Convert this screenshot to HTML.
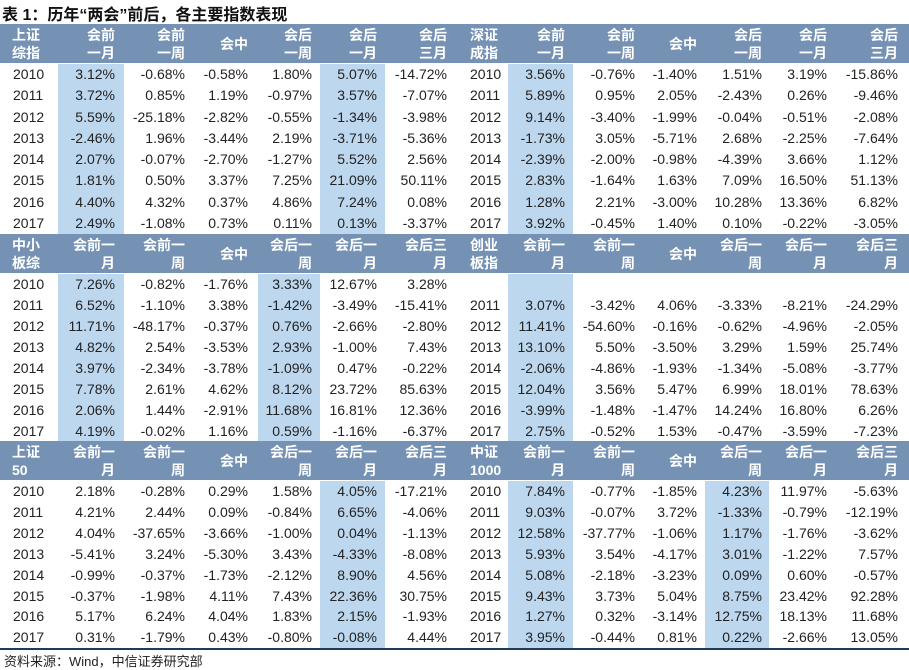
<!DOCTYPE html>
<html><head><meta charset="utf-8"><style>
body{margin:0;width:909px;height:670px;background:#fff;position:relative;overflow:hidden;font-family:"Liberation Sans","Noto Sans CJK SC",sans-serif;}
.a{position:absolute;white-space:nowrap;}
.title{left:2px;top:1px;font-size:16px;font-weight:bold;color:#111;}
.hdr{position:absolute;background:#7592b4;}
.hl{position:absolute;background:#bdd7ee;}
.h{color:#fff;font-weight:bold;font-size:14px;line-height:18px;}
.v{font-size:14px;color:#222;line-height:21px;}
.src{left:4px;top:651px;font-size:13px;color:#222;}
</style></head><body>
<div class="a title">表 1：历年“两会”前后，各主要指数表现</div>
<div id="t"></div>
<div class="a" style="left:0;top:648px;width:909px;height:2px;background:#1f3b5a"></div>
<div class="a src">资料来源：Wind，中信证券研究部</div>
<script>
const years=["2010","2011","2012","2013","2014","2015","2016","2017"];
const s1L=[["3.12%","-0.68%","-0.58%","1.80%","5.07%","-14.72%"],["3.72%","0.85%","1.19%","-0.97%","3.57%","-7.07%"],["5.59%","-25.18%","-2.82%","-0.55%","-1.34%","-3.98%"],["-2.46%","1.96%","-3.44%","2.19%","-3.71%","-5.36%"],["2.07%","-0.07%","-2.70%","-1.27%","5.52%","2.56%"],["1.81%","0.50%","3.37%","7.25%","21.09%","50.11%"],["4.40%","4.32%","0.37%","4.86%","7.24%","0.08%"],["2.49%","-1.08%","0.73%","0.11%","0.13%","-3.37%"]];
const s1R=[["3.56%","-0.76%","-1.40%","1.51%","3.19%","-15.86%"],["5.89%","0.95%","2.05%","-2.43%","0.26%","-9.46%"],["9.14%","-3.40%","-1.99%","-0.04%","-0.51%","-2.08%"],["-1.73%","3.05%","-5.71%","2.68%","-2.25%","-7.64%"],["-2.39%","-2.00%","-0.98%","-4.39%","3.66%","1.12%"],["2.83%","-1.64%","1.63%","7.09%","16.50%","51.13%"],["1.28%","2.21%","-3.00%","10.28%","13.36%","6.82%"],["3.92%","-0.45%","1.40%","0.10%","-0.22%","-3.05%"]];
const s2L=[["7.26%","-0.82%","-1.76%","3.33%","12.67%","3.28%"],["6.52%","-1.10%","3.38%","-1.42%","-3.49%","-15.41%"],["11.71%","-48.17%","-0.37%","0.76%","-2.66%","-2.80%"],["4.82%","2.54%","-3.53%","2.93%","-1.00%","7.43%"],["3.97%","-2.34%","-3.78%","-1.09%","0.47%","-0.22%"],["7.78%","2.61%","4.62%","8.12%","23.72%","85.63%"],["2.06%","1.44%","-2.91%","11.68%","16.81%","12.36%"],["4.19%","-0.02%","1.16%","0.59%","-1.16%","-6.37%"]];
const s2R=[null,["3.07%","-3.42%","4.06%","-3.33%","-8.21%","-24.29%"],["11.41%","-54.60%","-0.16%","-0.62%","-4.96%","-2.05%"],["13.10%","5.50%","-3.50%","3.29%","1.59%","25.74%"],["-2.06%","-4.86%","-1.93%","-1.34%","-5.08%","-3.77%"],["12.04%","3.56%","5.47%","6.99%","18.01%","78.63%"],["-3.99%","-1.48%","-1.47%","14.24%","16.80%","6.26%"],["2.75%","-0.52%","1.53%","-0.47%","-3.59%","-7.23%"]];
const s3L=[["2.18%","-0.28%","0.29%","1.58%","4.05%","-17.21%"],["4.21%","2.44%","0.09%","-0.84%","6.65%","-4.06%"],["4.04%","-37.65%","-3.66%","-1.00%","0.04%","-1.13%"],["-5.41%","3.24%","-5.30%","3.43%","-4.33%","-8.08%"],["-0.99%","-0.37%","-1.73%","-2.12%","8.90%","4.56%"],["-0.37%","-1.98%","4.11%","7.43%","22.36%","30.75%"],["5.17%","6.24%","4.04%","1.83%","2.15%","-1.93%"],["0.31%","-1.79%","0.43%","-0.80%","-0.08%","4.44%"]];
const s3R=[["7.84%","-0.77%","-1.85%","4.23%","11.97%","-5.63%"],["9.03%","-0.07%","3.72%","-1.33%","-0.79%","-12.19%"],["12.58%","-37.77%","-1.06%","1.17%","-1.76%","-3.62%"],["5.93%","3.54%","-4.17%","3.01%","-1.22%","7.57%"],["5.08%","-2.18%","-3.23%","0.09%","0.60%","-0.57%"],["9.43%","3.73%","5.04%","8.75%","23.42%","92.28%"],["1.27%","0.32%","-3.14%","12.75%","18.13%","11.68%"],["3.95%","-0.44%","0.81%","0.22%","-2.66%","13.05%"]];
const hdrA=[["会前","一月"],["会前","一周"],["会中"],["会后","一周"],["会后","一月"],["会后","三月"]];
const hdrB=[["会前一","月"],["会前一","周"],["会中"],["会后一","周"],["会后一","月"],["会后三","月"]];
const T=document.getElementById('t');
const rightL=[115,185,248,312,377,447], rightR=[565,635,697,762,827,898];
const hlL=[[58,124],[127,192],[195,258],[258,320],[320,385],[385,455]];
const hlR=[[508,573],[575,640],[640,705],[705,769],[769,835],[835,905]];
function div(cls,css,txt){const d=document.createElement('div');d.className=cls;d.style.cssText=css;if(txt!=null)d.textContent=txt;T.appendChild(d);return d;}
function section(top,dataTop,pitch,hdr,names,L,R,hiL,hiR,key){
  const h=div('hdr',`left:0;top:${top}px;width:909px;height:${dataTop-top-1}px`);
  
  
  const bottom=dataTop+pitch*8;
  [[hiL,hlL],[hiR,hlR]].forEach(([hi,pos])=>hi.forEach(c=>{const e=div('hl',`left:${pos[c][0]}px;top:${dataTop}px;width:${pos[c][1]-pos[c][0]}px;height:${bottom-dataTop}px`);
    
    }));
  names.forEach((n,i)=>{const x=i?470:12;const e=div('a h',`left:${x}px;top:${top+2}px`);e.innerHTML=n[0]+'<br>'+n[1];
    
    });
  [rightL,rightR].forEach(rs=>hdr.forEach((lab,c)=>{const e=div('a h',`right:${909-rs[c]}px;top:${lab.length==1?top+11:top+2}px;text-align:right`);e.innerHTML=lab.join('<br>');
    
    }));
  [[L,13,rightL],[R,470,rightR]].forEach(([D,yx,rs])=>D.forEach((row,r)=>{if(!row)return;const y=dataTop+pitch*r;
    const ye=div('a v',`left:${yx}px;top:${y}px`,years[r]);
    
    
    row.forEach((v,c)=>{const e=div('a v',`right:${909-rs[c]}px;top:${y}px`,v);
      
      });}));
}
section(24,64,21.25,hdrA,[["上证","综指"],["深证","成指"]],s1L,s1R,[0,4],[0],'s1');
section(234,274,21,hdrB,[["中小","板综"],["创业","板指"]],s2L,s2R,[0,3],[0],'s2');
section(441,481,20.9,hdrB,[["上证","50"],["中证","1000"]],s3L,s3R,[4],[0,3],'s3');
</script>
</body></html>
